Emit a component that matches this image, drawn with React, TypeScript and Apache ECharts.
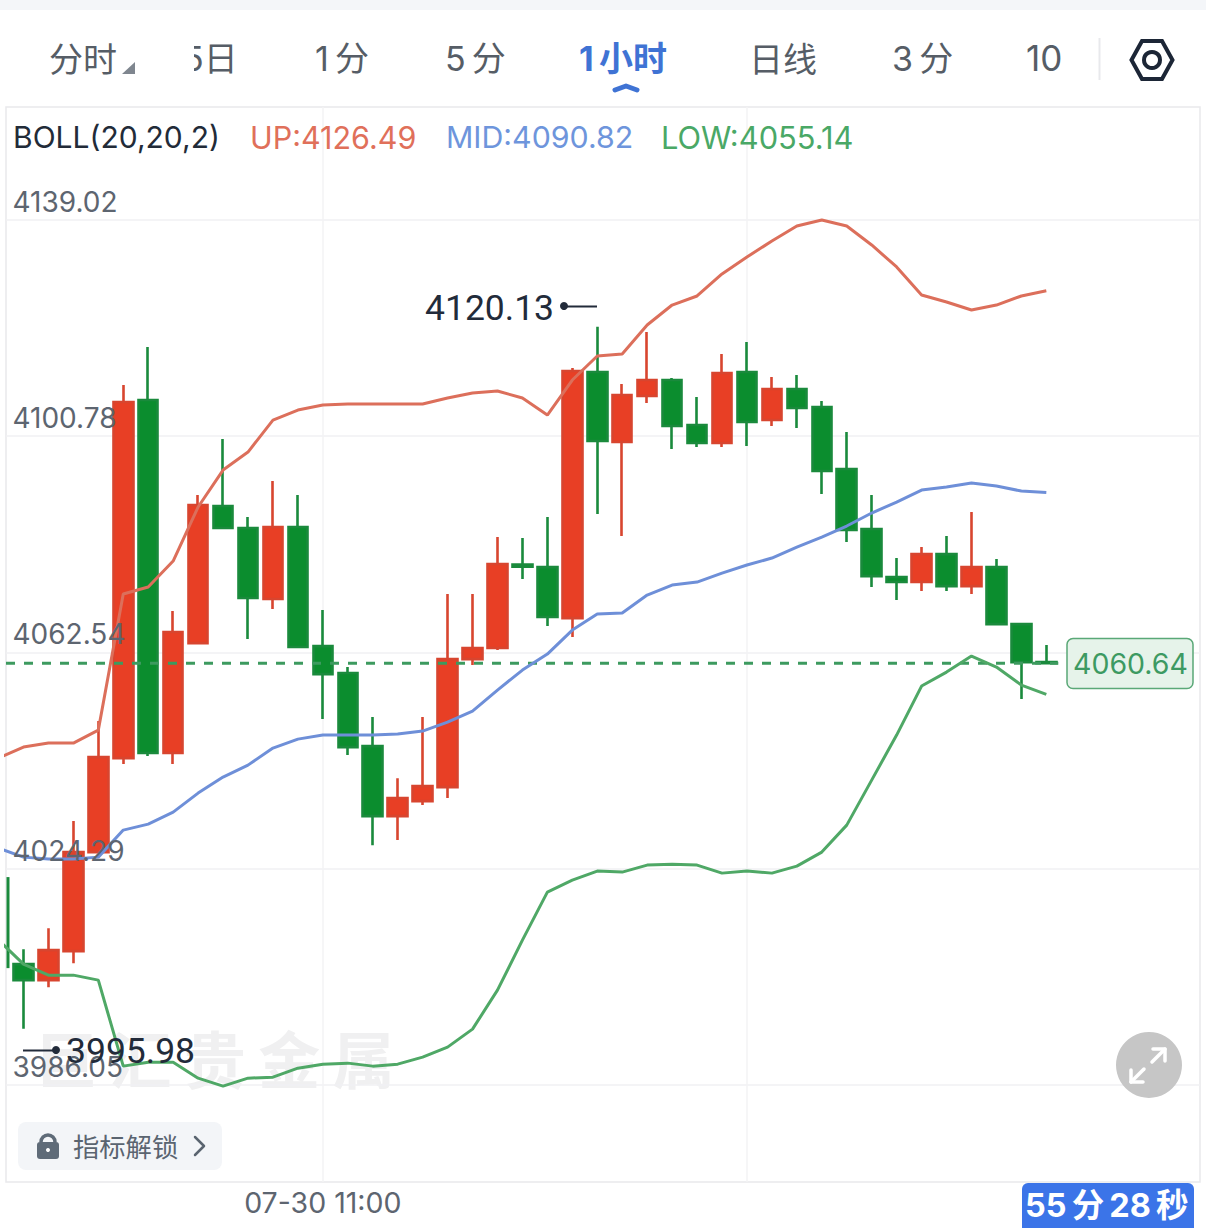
import React, { useEffect, useRef } from "react";
import * as echarts from "echarts";

const candles: number[][] = [
  [4007.43, 4004.6, 3995.98, 4010.08], [4004.6, 4009.9, 4003.36, 4013.79], [4009.73, 4027.24, 4007.6, 4032.72],
  [4027.24, 4044.04, 4027.06, 4050.41], [4043.86, 4106.83, 4042.8, 4109.84], [4107.18, 4044.75, 4044.22, 4116.56],
  [4044.75, 4066.15, 4042.8, 4069.86], [4064.2, 4088.61, 4064.03, 4090.38], [4088.43, 4084.54, 4084.37, 4100.28],
  [4084.54, 4072.16, 4064.91, 4086.49], [4071.99, 4084.72, 4070.22, 4092.86], [4084.72, 4063.5, 4063.32, 4090.38],
  [4063.67, 4058.72, 4050.76, 4070.04], [4058.9, 4045.81, 4044.39, 4059.96], [4045.98, 4033.6, 4028.47, 4051.11],
  [4033.6, 4036.79, 4029.36, 4040.32], [4036.26, 4038.91, 4035.55, 4051.11], [4038.73, 4061.37, 4036.79, 4072.87],
  [4061.37, 4063.32, 4060.31, 4072.87], [4063.32, 4078.18, 4062.96, 4082.95], [4078.1, 4077.7, 4075.52, 4082.77],
  [4077.64, 4068.8, 4067.21, 4086.49], [4068.62, 4112.31, 4065.26, 4112.84], [4112.13, 4099.93, 4087.02, 4120.13],
  [4099.75, 4108.07, 4083.13, 4110.01], [4107.89, 4110.72, 4106.65, 4119.21], [4110.72, 4102.58, 4098.52, 4111.07],
  [4102.76, 4099.58, 4098.87, 4107.71], [4099.58, 4111.96, 4098.87, 4115.32], [4112.13, 4103.29, 4099.05, 4117.44],
  [4103.64, 4109.13, 4102.58, 4111.25], [4109.13, 4105.77, 4102.23, 4111.6], [4105.94, 4094.62, 4090.56, 4107.01],
  [4094.98, 4084.19, 4082.07, 4101.52], [4084.37, 4076.05, 4074.11, 4090.38], [4075.88, 4074.99, 4071.81, 4079.24],
  [4074.99, 4079.94, 4073.4, 4081.18], [4079.94, 4074.28, 4073.4, 4083.13], [4074.28, 4077.64, 4072.87, 4087.37],
  [4077.64, 4067.56, 4067.39, 4079.06], [4067.56, 4060.84, 4054.3, 4067.74], [4060.84, 4060.64, 4060.5, 4063.85],
];
// Band series begin one bar before the first full candle, at index -1
const bollUp = [4043.86, 4045.81, 4046.52, 4046.52, 4048.81, 4072.87, 4074.11, 4078.71, 4088.26, 4094.8, 4097.98, 4103.64, 4105.41, 4106.3, 4106.48, 4106.48, 4106.48, 4106.48, 4107.54, 4108.42, 4108.77, 4107.54, 4104.53, 4110.72, 4114.96, 4115.32, 4120.45, 4123.98, 4125.58, 4129.47, 4132.47, 4135.3, 4137.96, 4139.02, 4137.96, 4134.6, 4130.71, 4125.75, 4124.52, 4123.1, 4123.98, 4125.58, 4126.49];
const bollMid = [4027.94, 4026.35, 4026.0, 4026.0, 4026.35, 4031.13, 4032.19, 4034.31, 4037.67, 4040.5, 4042.62, 4045.63, 4047.22, 4047.93, 4047.93, 4047.93, 4048.11, 4048.64, 4050.23, 4052.18, 4055.89, 4059.43, 4062.26, 4066.5, 4069.33, 4069.51, 4072.69, 4074.46, 4074.99, 4076.58, 4078.0, 4079.24, 4081.18, 4082.95, 4084.9, 4087.2, 4089.14, 4091.26, 4091.79, 4092.5, 4091.97, 4091.09, 4090.82];
const bollLow = [4011.67, 4007.43, 4005.48, 4005.48, 4004.6, 3989.39, 3990.09, 3990.09, 3987.26, 3985.85, 3987.26, 3987.44, 3989.03, 3989.74, 3989.92, 3989.39, 3989.74, 3990.98, 3992.75, 3995.93, 4002.83, 4011.67, 4020.16, 4022.28, 4023.88, 4023.7, 4024.94, 4025.11, 4024.94, 4023.52, 4023.88, 4023.52, 4024.76, 4027.24, 4032.01, 4039.97, 4047.93, 4056.6, 4059.07, 4061.9, 4059.96, 4056.77, 4055.14];
const partialWick = [4022.82, 4006.72];
const lastPrice = 4060.64;
const yTicks = [3986.05, 4024.29, 4062.54, 4100.78, 4139.02];
const xTicks = [12, 29];
const xTickLabels = ["07-30 11:00", ""];
const tabs = ["分时", "5日", "1\u2009分", "5\u2009分", "1\u2009小时", "日线", "3\u2009分", "10"];

const LATIN = "Inter, 'Noto Sans CJK SC', sans-serif";
const CJK = "'Noto Sans CJK SC', sans-serif";
const Z = 100;

function txt(text: string, x: number, y: number, size: number, fill: string, extra: any = {}) {
  return {
    type: "text", x, y, z: Z, silent: true,
    style: { text, fill, fontSize: size, fontFamily: LATIN, textVerticalAlign: "middle", textAlign: "left", ...extra },
  };
}
function ln(x1: number, y1: number, x2: number, y2: number, stroke: string, lineWidth: number) {
  return { type: "line", z: Z, silent: true, shape: { x1, y1, x2, y2 }, style: { stroke, lineWidth } };
}
function pl(points: number[][], stroke: string, lineWidth: number) {
  return { type: "polyline", z: Z, silent: true, shape: { points }, style: { stroke, lineWidth, fill: "none", lineCap: "round", lineJoin: "round" } };
}

const tabGrey = "#565d66";
const graphics: any[] = [
  { type: "rect", z: Z, silent: true, shape: { x: 0, y: 0, width: 1206, height: 10 }, style: { fill: "#f4f6f9" } },
  txt(tabs[0], 49, 57, 34, tabGrey, { fontFamily: CJK }),
  { type: "polygon", z: Z, silent: true, shape: { points: [[122, 74], [135, 74], [135, 62]] }, style: { fill: "#7f868f" } },
  txt(tabs[1], 183, 58, 34, tabGrey, { fontFamily: LATIN }),
  { type: "rect", z: Z + 1, silent: true, shape: { x: 150, y: 36, width: 44, height: 44 }, style: { fill: "#fff" } },
  txt(tabs[2], 315, 58, 34, tabGrey),
  txt(tabs[3], 445, 58, 34, tabGrey),
  txt(tabs[4], 579, 58, 34, "#3f73d4", { fontWeight: "bold" }),
  pl([[615, 90], [626, 86], [637, 90]], "#3f73d4", 5),
  txt(tabs[5], 749, 57.5, 34, tabGrey, { fontFamily: CJK }),
  txt(tabs[6], 892, 58, 34, tabGrey),
  txt(tabs[7], 1026, 58, 35, tabGrey),
  ln(1099.5, 38, 1099.5, 80, "#e8e9ec", 2),
  { type: "polygon", z: Z, silent: true, shape: { points: [[1131.5, 60], [1142, 41], [1162, 41], [1172.5, 60], [1162, 79], [1142, 79]] }, style: { stroke: "#1c2636", lineWidth: 4, fill: "none" } },
  { type: "circle", z: Z, silent: true, shape: { cx: 1152, cy: 60, r: 8 }, style: { stroke: "#1c2636", lineWidth: 4, fill: "none" } },

  txt("BOLL(20,20,2)", 13, 137, 30, "#222b38"),
  txt("UP:4126.49", 250, 137, 30.5, "#e0705a"),
  txt("MID:4090.82", 446, 137, 30.3, "#6e95dc"),
  txt("LOW:4055.14", 661, 137, 30.8, "#4aa866"),

  { type: "text", x: 35, y: 1057, z: 0, silent: true, style: { text: "巨\u2009汇\u2009贵\u2009金\u2009属", fill: "#f0f0f1", fontSize: 62, fontWeight: "bold", fontFamily: CJK, textVerticalAlign: "middle" } },

  txt("4120.13", 425, 308, 35.5, "#222b3a", { fontFamily: "Roboto, sans-serif" }),
  { type: "circle", z: Z, silent: true, shape: { cx: 564, cy: 306, r: 4 }, style: { fill: "#222b3a" } },
  ln(564, 306.5, 597, 306.5, "#222b3a", 2),
  txt("3995.98", 66, 1051, 35.5, "#222b3a", { fontFamily: "Roboto, sans-serif" }),
  { type: "circle", z: Z, silent: true, shape: { cx: 56, cy: 1050, r: 4 }, style: { fill: "#222b3a" } },
  ln(23, 1050.5, 56, 1050.5, "#222b3a", 2),

  { type: "rect", z: Z, silent: true, shape: { x: 1067, y: 638.5, width: 126, height: 50, r: 6 }, style: { fill: "#e6f3ea", stroke: "#5aa877", lineWidth: 1.5 } },
  txt("4060.64", 1073, 663, 28.5, "#3d9a62"),

  { type: "rect", z: Z, silent: true, shape: { x: 18, y: 1122, width: 204, height: 48, r: 8 }, style: { fill: "#f3f5f8" } },
  { type: "rect", z: Z, silent: true, shape: { x: 37, y: 1142, width: 22, height: 17, r: 3 }, style: { fill: "#5f6b78" } },
  { type: "arc", z: Z, silent: true, shape: { cx: 48, cy: 1142, r: 7, startAngle: Math.PI, endAngle: 2 * Math.PI }, style: { stroke: "#5f6b78", lineWidth: 3.5, fill: "none" } },
  { type: "circle", z: Z, silent: true, shape: { cx: 48, cy: 1150, r: 2 }, style: { fill: "#fff" } },
  txt("指标解锁", 73, 1145, 26.3, "#5a6470", { fontFamily: CJK }),
  pl([[195, 1137], [204, 1146], [195, 1155]], "#5a6470", 2.5),

  { type: "circle", z: Z, silent: true, shape: { cx: 1149, cy: 1065, r: 33 }, style: { fill: "#c6c6c6" } },
  pl([[1153, 1049], [1165, 1049], [1165, 1061]], "#fff", 3.5),
  pl([[1165, 1049], [1152, 1062]], "#fff", 3.5),
  pl([[1131, 1070], [1131, 1082], [1143, 1082]], "#fff", 3.5),
  pl([[1131, 1082], [1144, 1069]], "#fff", 3.5),

  { type: "rect", z: Z, silent: true, shape: { x: 1022, y: 1183, width: 172, height: 45, r: [6, 6, 0, 0] }, style: { fill: "#3b74e8" } },
  txt("55\u2009分\u200928\u2009秒", 1025, 1205, 32.5, "#fff", { fontWeight: "bold" }),
];

const withIndex = (values: number[]) => values.map((v, i) => [i - 1, v]);

export default function App() {
  const ref = useRef<HTMLDivElement>(null);
  useEffect(() => {
    document.body.style.margin = "0";
    const chart = echarts.init(ref.current!, undefined, { renderer: "svg" });
    const yBase = {
      type: "value" as const, min: 3968.9, max: 4159.0, scale: true,
      axisLine: { show: false }, axisTick: { show: false, customValues: yTicks },
    };
    chart.setOption({
      animation: false,
      backgroundColor: "#ffffff",
      grid: { left: 6, right: 6, top: 107, height: 1075, show: true, borderColor: "#e9e9ec", borderWidth: 1.5, backgroundColor: "transparent" },
      xAxis: {
        type: "value", min: -0.7, max: 47.16, scale: true,
        axisLine: { show: false },
        axisTick: { show: false, customValues: xTicks },
        splitLine: { show: true, lineStyle: { color: "#f3f3f5", width: 1.5 } },
        axisLabel: {
          show: true, customValues: xTicks, margin: 6, fontSize: 28.5, color: "#5d6570", fontFamily: LATIN,
          formatter: (v: number) => xTickLabels[xTicks.indexOf(Math.round(v))] ?? "",
        },
      },
      yAxis: [
        { ...yBase, axisLabel: { show: false }, splitLine: { show: true, lineStyle: { color: "#f1f1f3", width: 1.5 } } },
        {
          ...yBase, position: "left", z: 10, splitLine: { show: false },
          axisLabel: {
            show: true, inside: true, margin: 6.5, customValues: yTicks, fontSize: 28, color: "#5d6570", fontFamily: LATIN,
            verticalAlign: "bottom", padding: [0, 0, 4, 0], formatter: (v: number) => v.toFixed(2),
          },
        },
      ],
      graphic: graphics,
      series: [
        {
          type: "line", name: "wick", data: partialWick.map((v) => [-0.62, v]), showSymbol: false,
          symbol: "none", lineStyle: { color: "#1a8a3c", width: 3 }, z: 2,
        },
        {
          type: "candlestick", data: candles.map((c, i) => [i, ...c]), barWidth: 20,
          itemStyle: { color: "#e83f25", color0: "#0b8d2e", borderColor: "#d8452f", borderColor0: "#1a8a3c", borderWidth: 2.6 },
          z: 3,
        },
        {
          type: "line", name: "last", data: [[-0.7, lastPrice], [41.48, lastPrice]], symbol: "none",
          lineStyle: { color: "#3d9a5f", width: 3, type: [9, 9] }, z: 4,
        },
        { type: "line", name: "UP", data: withIndex(bollUp), symbol: "none", lineStyle: { color: "#dc6f5b", width: 3 }, z: 5 },
        { type: "line", name: "MID", data: withIndex(bollMid), symbol: "none", lineStyle: { color: "#6e8fd8", width: 3 }, z: 5 },
        { type: "line", name: "LOW", data: withIndex(bollLow), symbol: "none", lineStyle: { color: "#4fa866", width: 3 }, z: 5 },
      ],
    });
    return () => chart.dispose();
  }, []);
  return <div ref={ref} style={{ position: "absolute", left: 0, top: 0, width: 1206, height: 1228 }} />;
}
